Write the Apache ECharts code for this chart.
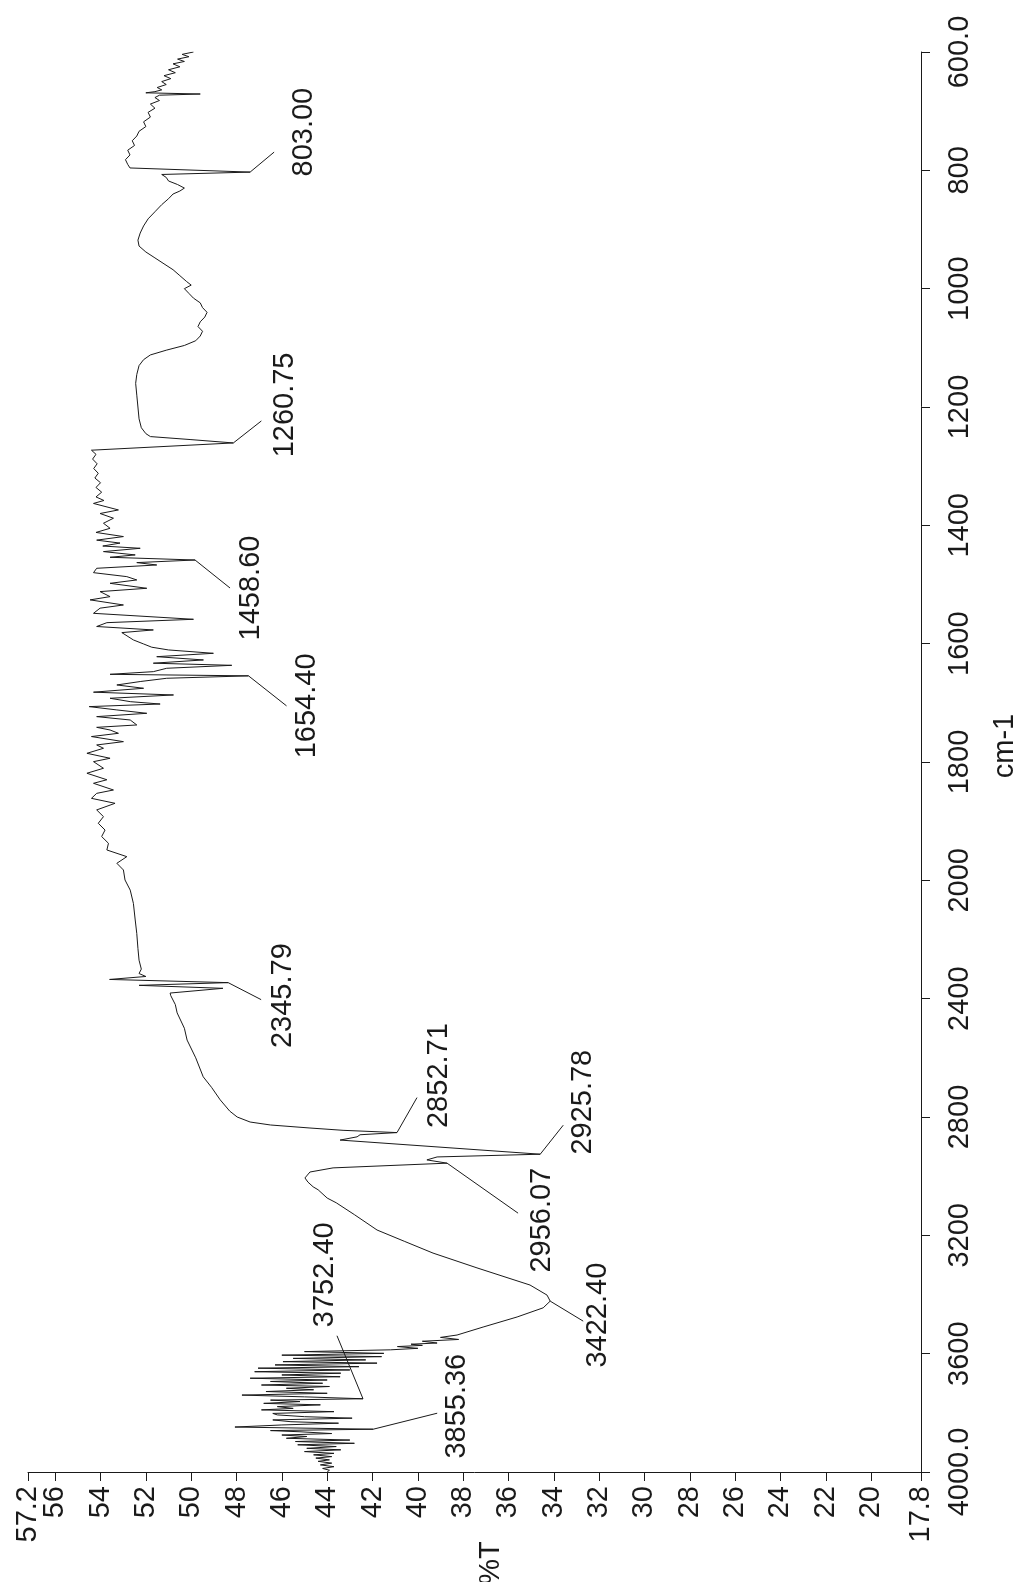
<!DOCTYPE html>
<html>
<head>
<meta charset="utf-8">
<script src="https://cdn.jsdelivr.net/npm/echarts@6/dist/echarts.min.js"></script>
<style>
html,body{margin:0;padding:0;background:#fff;}
#chart{width:1015px;height:1582px;}
</style>
</head>
<body>
<div id="chart"></div>
<script>
// ---------- DATA: [wavenumber (cm-1), %T] ----------
const fingerprintLow = [
  [600,49.9],[604,50.4],[608,50.1],[612,50.6],[616,50.3],[620,50.8],[625,50.5],[630,51.0],[635,50.7],[640,51.2],
  [645,50.9],[650,51.3],[655,51.1],[660,51.5],[664,51.3],[667,51.6],[669,52.0],[671,49.6],[673,51.4],[677,51.6],
  [682,51.4],[688,51.8],[695,51.6],[702,51.9],[710,51.8],[718,52.1],[726,52.0],[734,52.3],[742,52.4],[750,52.6],
  [758,52.5],[766,52.8],[774,52.7],[782,52.9],[790,52.8],[796,52.7],[803,47.4],[807,51.3],[812,51.1],[818,51.0],
  [824,50.6],[830,50.3],[835,50.5],[840,50.8],[848,51.0],[858,51.3],[870,51.6],[882,51.9],[894,52.1],[906,52.25],
  [918,52.35],[928,52.3],[938,52.0],[948,51.6],[958,51.2],[968,50.8],[978,50.5],[988,50.2],[994,50.0],[1000,50.3],
  [1008,50.1],[1016,49.9],[1024,49.6],[1032,49.5],[1040,49.3],[1048,49.4],[1056,49.6],[1064,49.7],[1072,49.5],[1080,49.6],
  [1088,49.8],[1096,50.3],[1104,51.1],[1112,51.8],[1120,52.1],[1130,52.3],[1145,52.4],[1160,52.45],[1180,52.4],[1200,52.35],
  [1220,52.3],[1235,52.2],[1245,52.0],[1250,51.8],[1255,50.05],[1260.75,48.14]
];
const fingerprintHigh = [
  [1273,54.4],[1280,54.2],[1288,54.35],[1296,54.15],[1304,54.3],[1312,54.1],[1320,54.25],[1328,54.0],[1336,54.2],[1344,53.95],
  [1352,54.2],[1358,53.85],[1363,54.31],[1374,53.21],[1380,54.02],[1388,53.43],[1396.5,53.87],[1405,53.58],[1412,54.2],[1419,52.99],
  [1425,54.17],[1430,53.14],[1435,53.9],[1438.8,52.25],[1444.4,53.87],[1450,52.47],[1454,53.58],[1458.6,49.83],[1463,52.4],[1467,51.52],
  [1472.6,54.17],[1480,54.31],[1486.7,52.84],[1492.3,52.4],[1498,53.58],[1506.4,51.96],[1512,54.02],[1520.5,53.58],[1526,54.46],[1534.6,52.99],
  [1540,54.02],[1548.7,54.31],[1558.8,49.9],[1564.5,53.72],[1571,54.17],[1576.8,51.67],[1581.3,53.06],[1593.7,52.55],[1600.5,52.1],[1606,51.74],
  [1610.6,51.0],[1616.3,49.02],[1622,51.52],[1627.5,49.46],[1633,51.67],[1636.6,48.21],[1641.6,51.08],[1647.3,51.67],[1651.8,53.58],[1654.4,47.47],
  [1658.5,51.08],[1664,52.25],[1669.8,53.28],[1675.4,52.1],[1682,54.31],[1686.7,50.78],[1692.3,53.58],[1698,52.69],[1702,51.37],[1706.4,54.5],
  [1712,53.28],[1717.7,51.96],[1723.3,54.17],[1729,52.69],[1737.4,52.4],[1741.4,54.17],[1745.9,53.58],[1751.5,53.21],[1757,54.4],[1765.6,52.99],
  [1771.2,54.17],[1776.8,53.87],[1785.3,54.6],[1793.7,53.58],[1799.4,54.31],[1810.6,53.87],[1819,54.6],[1830,53.72],[1836,54.31],[1847.3,53.43],
  [1853,54.17],[1861.4,54.4],[1869.8,53.36],[1881,54.17],[1892.3,53.87],[1903.6,54.1],[1915,53.8],[1926,53.95],[1937.4,53.65],[1948.7,53.72],
  [1960,52.84],[1971.2,53.28],[1982.5,52.99],[1999.4,52.92]
];
const midRegion = [
  [2033,52.69],[2078,52.55],[2134,52.47],[2180,52.4],[2230,52.35],[2270,52.3],[2300,52.2],[2315,52.3],[2325,52.0],[2335,53.6],
  [2345.79,48.37],[2355,52.3],[2365,48.6],[2381,50.93],[2390,50.9],[2420,50.7],[2448,50.62],[2500,50.3],[2540,50.18],[2600,49.8],
  [2664,49.47],[2700,49.1],[2742,48.72],[2780,48.3],[2800,47.97],[2817,47.4],[2827,46.5],[2837,44.8],[2845,43.3],[2852.71,40.92]
];
const chRegion = [
  [2860,42.55],[2867,42.68],[2878,43.43],[2925.78,34.6],[2935,39.15],[2945,39.6],[2956.07,38.71],[2972,43.74],[2986,44.76],[3006,44.98],
  [3020,44.85],[3036,44.62],[3046,44.4],[3074,44.0],[3090,43.6],[3130,42.8],[3182,41.8],[3220,40.6],[3260,39.33],[3310,37.39],
  [3368,35.05],[3402,34.3],[3422.4,34.16],[3445,34.47],[3476,35.62],[3510,37.12],[3537,38.27]
];
const ohRegion = [
  [3545,39.0],[3552,38.2],[3558,39.8],[3564,39.15],[3568,40.3],[3572,39.8],[3576,40.9],[3582,40.0],[3587,41.2],[3593,45.0],
  [3599,41.5],[3605,46.0],[3610,41.6],[3616,45.5],[3621,42.3],[3627,45.95],[3632,41.8],[3638,46.3],[3644,42.6],[3649,47.05],
  [3655,43.0],[3661,47.2],[3666,43.4],[3672,46.0],[3678,43.43],[3683,47.4],[3689,44.0],[3694,46.5],[3700,44.2],[3706,46.9],
  [3711,43.9],[3717,45.8],[3722,44.6],[3728,46.7],[3734,44.0],[3740,47.76],[3746,45.0],[3752.4,42.42],[3757,46.5],[3762,45.2],
  [3768,46.8],[3773,44.3],[3779,46.2],[3785,45.5],[3790,46.9],[3796,43.7],[3802,46.4],[3807,46.2],[3813,45.0],[3818,42.9],
  [3824,46.4],[3830,45.6],[3835,43.5],[3841,46.0],[3848,48.07],[3855.36,41.97],[3860,46.5],[3864,45.2],[3870,43.8],[3875,46.0],
  [3880,44.9],[3886,45.8],[3892,43.0],[3897,45.4],[3903,42.8],[3908,45.3],[3914,43.6],[3920,44.9],[3925,43.4],[3931,45.0],
  [3937,43.7],[3942,44.6],[3948,43.8],[3953,44.5],[3959,43.9],[3964,44.4],[3970,43.8],[3976,44.3],[3982,43.7],[3988,44.2],
  [3994,43.9],[4000,44.0]
];

// Labelled peaks
const peakWavenumbers = [803.00, 1260.75, 1458.60, 1654.40, 2345.79, 2852.71, 2925.78, 2956.07, 3422.40, 3752.40, 3855.36];
const peakTransmittance = [47.4, 48.14, 49.83, 47.47, 48.37, 40.92, 34.6, 38.71, 34.16, 42.42, 41.97];
const peakLabels = ['803.00','1260.75','1458.60','1654.40','2345.79','2852.71','2925.78','2956.07','3422.40','3752.40','3855.36'];

// Axis tick labels (%T); the end value 57.2 is carried by its own overlay axis
const tTicks = [56,54,52,50,48,46,44,42,40,38,36,34,32,30,28,26,24,22,20,17.8];
const tEndTick = [57.2];

// ---------- LAYOUT (pixel offsets of leader end [dx,dy] and label centre [tx,ty]) ----------
const peakLayout = [
  [24,-20,54,-40],[28,-22,52,-38],[35,28,56,28],[38,30,58,30],[33,17,55,13],[20,-35,42,-57],
  [23,-29,43,-52],[71,50,95,57],[33,20,48,14],[-26,-63,-38,-124],[64,-16,84,-23]
];

// Piecewise wavenumber scale (scale halves above 2000 cm-1)
function toAxis(w){ return w <= 2000 ? w : 2000 + (w - 2000) / 2; }
function fromAxis(u){ return u <= 2000 ? u : 2000 + (u - 2000) * 2; }

const spectrum = [].concat(fingerprintLow, fingerprintHigh, midRegion, chRegion, ohRegion);
const lineData = spectrum.map(p => [p[1], toAxis(p[0])]);
const peakData = peakWavenumbers.map((w, i) => [peakTransmittance[i], toAxis(w), i]);

const FONT = '"Liberation Sans", Arial, Helvetica, sans-serif';
const FS = 29;
const INK = '#1a1a1a';

function tAxis(values, showLine) {
  return {
    type: 'value', min: 17.8, max: 57.2, inverse: true, position: 'bottom', offset: 0,
    splitLine: {show: false},
    axisLine: {show: showLine, onZero: false, lineStyle: {color: INK, width: 1}},
    axisTick: {show: true, inside: false, length: 9, customValues: values, lineStyle: {color: INK}},
    axisLabel: {
      show: true, rotate: 90, margin: 14, fontSize: FS, fontFamily: FONT, color: INK,
      customValues: values, showMinLabel: true, showMaxLabel: true, hideOverlap: false,
      formatter: v => String(v)
    }
  };
}

const chart = echarts.init(document.getElementById('chart'), null, {renderer: 'canvas'});
chart.setOption({
  backgroundColor: '#ffffff',
  animation: false,
  grid: {left: 28, right: 94, top: 52, bottom: 110, containLabel: false},
  xAxis: [tAxis(tTicks, true), tAxis(tEndTick, false)],
  yAxis: {
    type: 'value', min: 600, max: 3000, interval: 200, inverse: true, position: 'right',
    splitLine: {show: false},
    axisLine: {show: true, onZero: false, lineStyle: {color: INK, width: 1}},
    axisTick: {show: true, inside: false, length: 9, lineStyle: {color: INK}},
    axisLabel: {
      show: true, rotate: 90, margin: 24, fontSize: FS, fontFamily: FONT, color: INK,
      align: 'center', verticalAlign: 'top', showMinLabel: true, showMaxLabel: true,
      formatter: u => { const w = Math.round(fromAxis(u)); return (w === 600 || w === 4000) ? w.toFixed(1) : String(w); }
    }
  },
  graphic: [
    {type: 'text', x: 491, y: 1563, rotation: Math.PI / 2,
     style: {text: '%T', font: FS + 'px ' + FONT, fill: INK, align: 'center', verticalAlign: 'middle'}},
    {type: 'text', x: 1005, y: 746, rotation: Math.PI / 2,
     style: {text: 'cm-1', font: FS + 'px ' + FONT, fill: INK, align: 'center', verticalAlign: 'middle'}}
  ],
  series: [
    {
      type: 'line', data: lineData, xAxisIndex: 0, showSymbol: false, symbol: 'none', smooth: false,
      sampling: null, clip: true,
      lineStyle: {color: INK, width: 1}
    },
    {
      type: 'custom', data: peakData, xAxisIndex: 0, clip: false, z: 5,
      renderItem: function (params, api) {
        const p = api.coord([api.value(0), api.value(1)]);
        const i = api.value(2);
        const L = peakLayout[i];
        return {
          type: 'group',
          children: [
            {type: 'line', shape: {x1: p[0], y1: p[1], x2: p[0] + L[0], y2: p[1] + L[1]},
             style: {stroke: INK, lineWidth: 1}},
            {type: 'text', x: p[0] + L[2], y: p[1] + L[3], rotation: Math.PI / 2,
             style: {text: peakLabels[i], font: FS + 'px ' + FONT, fill: INK, align: 'center', verticalAlign: 'middle'}}
          ]
        };
      }
    }
  ]
});
</script>
</body>
</html>
